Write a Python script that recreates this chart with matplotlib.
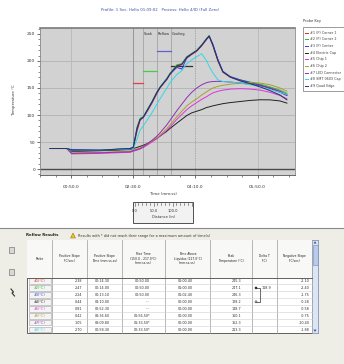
import matplotlib
matplotlib.use("Agg")
import matplotlib.pyplot as plt
from matplotlib.patches import Rectangle, Polygon, Circle
from matplotlib.ticker import MultipleLocator, FixedLocator

# ---------------- profile data ----------------
time_s = [16, 43, 51, 96, 145, 150, 156, 161, 166, 172, 180, 188, 193, 204, 209,
          220, 228, 236, 244, 252, 260, 268, 272, 278, 286, 294, 306, 322, 338,
          354, 370, 386, 397]

probe1 = [38, 38, 33, 34, 37, 39, 70, 90, 96, 106, 122, 140, 150, 166, 175, 190,
          193, 205, 212, 218, 228, 240, 245.3, 228, 200, 179, 170, 164, 160, 156,
          150, 143, 138]
probe2 = [38, 38, 35, 35, 38, 40, 78, 94, 97, 109, 125, 143, 152, 168, 177, 193,
          195, 208, 214, 220, 230, 242, 247.1, 230, 202, 180, 171, 165, 161, 157,
          152, 146, 140]
probe3 = [38, 38, 36, 35, 38, 41, 76, 92, 95, 107, 123, 141, 151, 166, 176, 188,
          185, 206, 213, 219, 229, 241, 246.3, 231, 203, 181, 171, 165, 160, 155,
          149, 142, 136]
probe4 = [38, 38, 33, 34, 36, 38, 40, 42, 44, 47, 52, 57, 61, 70, 75, 85, 92, 99,
          104, 107, 110, 114, 115, 117, 119, 121, 123, 125, 127, 128.2, 128, 126,
          122]
probe5 = [38, 38, 28, 29, 31, 33, 35, 37, 40, 44, 50, 56, 61, 72, 78, 92, 101,
          110, 117, 123, 129, 134, 137, 141, 144, 146, 148, 148.7, 148, 146, 142,
          136, 130]
probe6 = [38, 38, 30, 31, 33, 35, 37, 39, 42, 46, 52, 58, 63, 75, 82, 97, 107,
          117, 124, 130, 137, 143, 146, 150, 153, 155, 157, 159, 160.1, 159, 156,
          150, 144]
probe7 = [38, 38, 29, 30, 32, 34, 36, 38, 41, 46, 53, 61, 67, 82, 90, 108, 120,
          132, 142, 150, 156, 160, 161, 162, 162.3, 162, 161, 159, 157, 154, 150,
          144, 137]
probe8 = [38, 38, 34, 35, 37, 38, 55, 72, 80, 90, 104, 120, 130, 150, 160, 175,
          182, 195, 202, 208, 213.3, 200, 190, 178, 165, 162, 161, 159, 156, 152,
          147, 142, 138]
probe9 = [38, 38, 35, 35, 38, 40, 74, 92, 96, 108, 124, 142, 151, 167, 176, 191,
          194, 207, 213, 219, 229, 241, 246.0, 229, 201, 180, 170, 163, 158, 152,
          145, 137, 128]

probe_series = [probe1, probe2, probe3, probe4, probe5, probe6, probe7, probe8, probe9]
probe_colors = ['#e02828', '#28c028', '#3838e0', '#202020', '#e030e0', '#a8a030',
                '#9030b0', '#30d8e8', '#283070']
probe_names = ['#1 (P) Corner 1', '#2 (P) Corner 2', '#3 (P) Center',
               '#4 Electric Cap', '#5 Chip 1', '#6 Chip 2', '#7 LED Connector',
               '#8 SMT 0603 Cap', '#9 Quad Edge']

# process window limits drawn as short bars
window_start = [150, 166, 188, 211]
window_end = [166, 188, 211, 245]
window_level = [160, 181, 218, 191]
window_color = ['#e04040', '#40d040', '#6060d0', '#303030']

zone_names = ['Soak', 'Reflow', 'Cooling']
zone_start = [166, 188, 211]

x_ticks = [50, 150, 250, 350]
x_labels = ['00:50.0', '02:30.0', '04:10.0', '05:50.0']
y_ticks = [0, 50, 100, 150, 200, 250]

# ---------------- results table ----------------
col_headers = ['Probe', 'Positive Slope\n(°C/sec)', 'Positive Slope\nTime (mm:ss.ss)',
               'Rise Time\n(150.0 - 217.0°C)\n(mm:ss.ss)',
               'Time Above\nLiquidus (217.0°C)\n(mm:ss.ss)', 'Peak\nTemperature (°C)',
               'Delta T\n(°C)', 'Negative Slope\n(°C/sec)']
row_probes = ['#1(°C)', '#2(°C)', '#3(°C)', '#4(°C)', '#5(°C)', '#6(°C)', '#7(°C)', '#8(°C)']
pos_slope = ['2.38', '2.47', '2.24', '0.44', '0.81', '0.42', '1.05', '2.70']
pos_slope_time = ['00:14.30', '00:14.00', '00:13.10', '04:10.00', '02:52.30',
                  '03:36.60', '03:09.80', '00:58.30']
rise_time = ['00:50.00', '00:50.00', '00:50.00', '---', '---', '01:56.50*',
             '01:33.50*', '02:33.50*']
time_above = ['01:00.40', '01:00.00', '01:02.40', '00:00.00', '00:00.00',
              '00:00.00', '00:00.00', '00:00.00']
neg_slope = ['-2.10', '-2.40', '-1.75', '-0.28', '-0.58', '-0.75', '-10.40', '-1.88']
peak_temp = [max(s) for s in probe_series[:8]]
delta_t = max(peak_temp) - min(peak_temp)

W, H = 344, 364
fig = plt.figure(figsize=(W / 100, H / 100), dpi=100)
fig.patch.set_facecolor('white')

# full-figure canvas in pixel units for the surrounding window elements
cv = fig.add_axes([0, 0, 1, 1], zorder=0)
cv.set_xlim(0, W)
cv.set_ylim(H, 0)
cv.axis('off')

# ---------------- chart ----------------
ax = fig.add_axes([40 / W, 1 - 175 / H, 255 / W, 147 / H], zorder=2)
ax.set_facecolor('#d2d2d2')
ax.set_xlim(0, 410)
ax.set_ylim(-11, 261)
for yv in [50, 100, 150, 200]:
    ax.axhline(yv, color='#b2b2b2', lw=0.6, zorder=1)
for xv in [50, 350]:
    ax.axvline(xv, color='#b8b8b8', lw=0.6, zorder=1)
ax.axvline(150, color='#8c8c8c', lw=0.6, zorder=1)
for xv in zone_start:
    ax.axvline(xv, color='#a4a4a4', lw=0.6, zorder=1)
ax.axvline(250, color='#999999', lw=0.6, ls=(0, (1, 1)), zorder=1)
ax.axhline(0, color='#4a4a4a', lw=1.0, zorder=2)

for name, xs in zip(zone_names, zone_start):
    ax.text(xs + 1, 250, name, fontsize=2.6, color='#303030', va='center', ha='left', zorder=3)

for x0, x1, lv, c in zip(window_start, window_end, window_level, window_color):
    ax.plot([x0, x1], [lv, lv], color=c, lw=0.9, zorder=3)

for series, c in zip(probe_series, probe_colors):
    ax.plot(time_s, series, color=c, lw=0.7, zorder=4)

ax.xaxis.set_major_locator(FixedLocator(x_ticks))
ax.set_xticklabels(x_labels)
ax.xaxis.set_minor_locator(MultipleLocator(25))
ax.yaxis.set_major_locator(FixedLocator(y_ticks))
ax.yaxis.set_minor_locator(MultipleLocator(10))
ax.tick_params(axis='both', which='major', labelsize=3.2, length=2, width=0.5,
               colors='#333333', pad=1.5)
ax.tick_params(axis='both', which='minor', length=1.2, width=0.4, colors='#333333')
ax.tick_params(axis='x', which='major', pad=5)
for side, sp in ax.spines.items():
    sp.set_color('#8a8a8a')
    sp.set_linewidth(0.6)
ax.spines['top'].set_color('#7a7a7a')
ax.spines['top'].set_linewidth(1.2)
ax.spines['bottom'].set_color('#505050')

fig.text(160 / W, 1 - 10 / H,
         'Profile: 1 Sec. Hello 01:09:02   Process: Hello 4/ID (Full Zero)',
         fontsize=2.8, color='#3a50b0', ha='center', va='center')
fig.text(14 / W, 1 - 100 / H, 'Temperature °C', fontsize=2.8, rotation=90,
         ha='center', va='center', color='#333333')
fig.text(163 / W, 1 - 194 / H, 'Time (mm:ss)', fontsize=2.8, ha='center',
         va='center', color='#333333')

# probe key
cv.text(303, 21, 'Probe Key', fontsize=2.6, color='#333333', va='center')
cv.add_patch(Rectangle((303, 27), 44, 64, fc='white', ec='#8a8a8a', lw=0.6))
for i, (nm, c) in enumerate(zip(probe_names, probe_colors)):
    yy = 32.5 + i * 6.7
    cv.plot([305, 308], [yy, yy], color=c, lw=0.7)
    cv.text(309.5, yy, nm, fontsize=2.4, color='#404040', va='center')

# distance scale
cv.add_patch(Rectangle((133, 202), 60, 21, fc='#f2f2f2', ec='#505050', lw=0.7))
for k in range(16):
    xx = 134.5 + k * 3.8
    cv.plot([xx, xx], [202.5, 204.5 if k % 5 else 206], color='#404040', lw=0.4)
for lab, xx in zip(['0.0', '50.0', '100.0'], [134.5, 153.5, 172.5]):
    cv.text(xx, 211, lab, fontsize=2.6, ha='center', va='center', color='#333333')
cv.text(163, 217.5, 'Distance (in)', fontsize=2.6, ha='center', va='center', color='#333333')

# ---------------- lower results panel ----------------
cv.add_patch(Rectangle((0, 228), W, H - 228, fc='#eeede6', ec='none'))
cv.plot([0, W], [228, 228], color='#8a8a8a', lw=0.8)
cv.text(26, 235.5, 'Reflow Results', fontsize=2.8, fontweight='bold', va='center', color='#202020')
cv.add_patch(Polygon([[70.5, 238], [75.5, 238], [73, 233]], closed=True,
                     fc='#f0c020', ec='#806000', lw=0.3))
cv.text(78, 235.5, 'Results with * did not reach their range for a maximum amount of time(s)',
        fontsize=2.5, va='center', color='#303030')

# side tool icons
for yy in [250, 272]:
    cv.add_patch(Rectangle((9, yy - 3), 5, 6, fc='#d8d8d8', ec='#606060', lw=0.4))
cv.plot([11, 13.5, 12, 14.5], [289, 292, 293, 296], color='#303030', lw=0.8)

col_edges = [27, 52, 87, 122, 165, 210, 252, 277, 312]
top, head_bot, row_h = 240, 277.5, 6.95
n_rows = len(row_probes)
bot = head_bot + n_rows * row_h
cv.add_patch(Rectangle((27, top), 291, bot - top, fc='white', ec='#606060', lw=0.7))
cv.add_patch(Rectangle((27, top), 285, head_bot - top, fc='#f8f8f6', ec='none'))
for xe in col_edges[1:]:
    cv.plot([xe, xe], [top, bot], color='#9a9a9a', lw=0.5)
cv.plot([27, 312], [head_bot, head_bot], color='#606060', lw=0.7)
for r in range(1, n_rows):
    yy = head_bot + r * row_h
    cv.plot([52, 312], [yy, yy], color='#d0d0d0', lw=0.4)

for j, hd in enumerate(col_headers):
    xc = (col_edges[j] + col_edges[j + 1]) / 2
    cv.text(xc, (top + head_bot) / 2, hd, fontsize=2.2, ha='center', va='center',
            color='#202020', linespacing=1.2)

columns = [pos_slope, pos_slope_time, rise_time, time_above,
           ['%.1f' % p for p in peak_temp], [''] * n_rows, neg_slope]
right_x = [82, 110, 150, 193, 241, 270, 310]
for r in range(n_rows):
    yc = head_bot + (r + 0.5) * row_h
    cv.add_patch(Rectangle((29, yc - 2.8), 21.5, 5.6, fc='#f4f4f4', ec='#a0a0a0', lw=0.4))
    cv.text(39.5, yc, row_probes[r], fontsize=2.4, ha='center', va='center',
            color=probe_colors[r])
    for col, xr in zip(columns, right_x):
        cv.text(xr, yc, col[r], fontsize=2.4, ha='right', va='center', color='#303030')

# delta T bracket between hottest and coldest probe
i_hi = peak_temp.index(max(peak_temp))
i_lo = peak_temp.index(min(peak_temp))
y_hi = head_bot + (i_hi + 0.5) * row_h
y_lo = head_bot + (i_lo + 0.5) * row_h
cv.plot([256, 260, 260, 256], [y_hi, y_hi, y_lo, y_lo], color='#303030', lw=0.5)
cv.add_patch(Circle((256, y_hi), 1.0, fc='#202020', ec='#202020', lw=0.4, zorder=5))
cv.add_patch(Circle((256, y_lo), 1.0, fc='white', ec='#202020', lw=0.4, zorder=5))
cv.text(262, y_hi, '%.1f' % delta_t, fontsize=2.4, ha='left', va='center', color='#303030')

# scrollbar
cv.add_patch(Rectangle((312, top), 6, bot - top, fc='#dbe5f5', ec='#8aa0c8', lw=0.4))
cv.add_patch(Rectangle((312.5, top + 5), 5, 20, fc='#b8cbea', ec='#7088b8', lw=0.4))
cv.add_patch(Polygon([[313.5, top + 3.5], [316.5, top + 3.5], [315, top + 1.2]], fc='#3050a0'))
cv.add_patch(Polygon([[313.5, bot - 3.5], [316.5, bot - 3.5], [315, bot - 1.2]], fc='#3050a0'))

fig.savefig('out.png', dpi=100, facecolor=fig.get_facecolor())
